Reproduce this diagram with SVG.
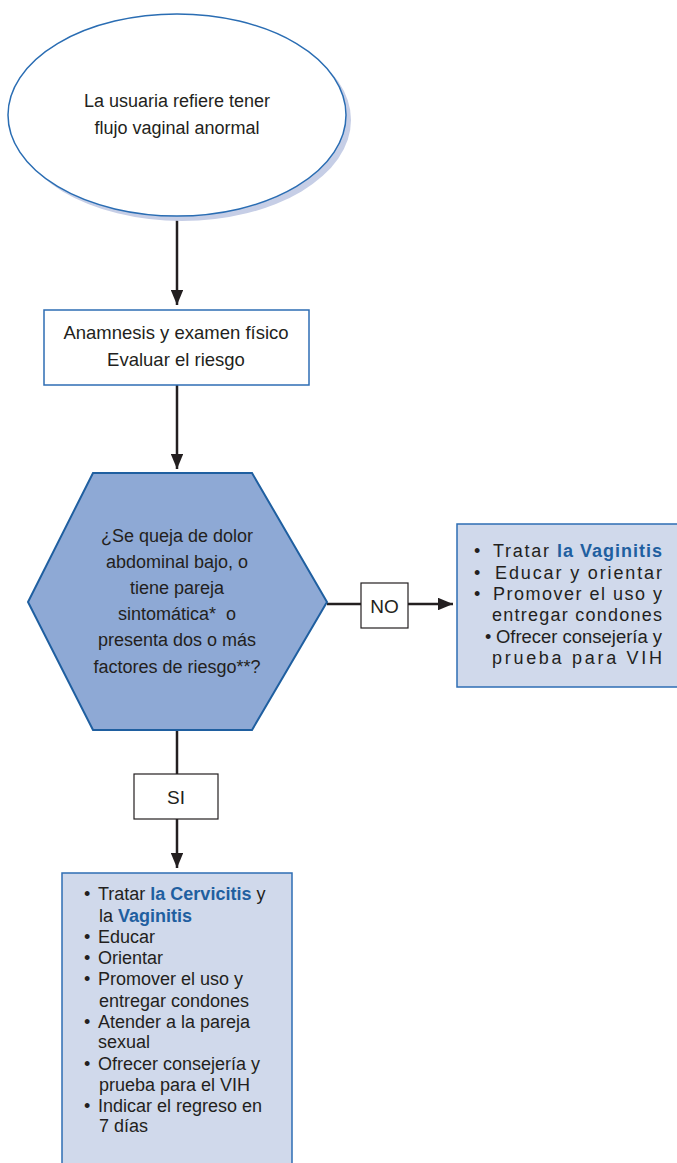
<svg xmlns="http://www.w3.org/2000/svg" width="677" height="1163" viewBox="0 0 677 1163">
<style>
.t{font-family:"Liberation Sans",Arial,sans-serif;font-size:18px;fill:#231f20}
.c{text-anchor:middle}
.b{font-weight:bold;fill:#1f5fa0}
.ln{stroke:#231f20;stroke-width:2.5;fill:none}
.lbl{fill:#fff;stroke:#231f20;stroke-width:1.2}
.act{fill:#d0d9eb;stroke:#2e6db4;stroke-width:1.5}
</style>
<defs>
<marker id="ah" viewBox="0 0 12 10" refX="12" refY="5" markerWidth="6" markerHeight="5" orient="auto" markerUnits="strokeWidth">
<path d="M0,0 L12,5 L0,10 Z" fill="#231f20"/>
</marker>
</defs>
<rect width="677" height="1163" fill="#fff"/>
<g id="connectors">
<line class="ln" x1="177" y1="216" x2="177" y2="305" marker-end="url(#ah)"/>
<line class="ln" x1="177" y1="385" x2="177" y2="469" marker-end="url(#ah)"/>
<line class="ln" x1="327" y1="604" x2="361" y2="604"/>
<line class="ln" x1="408" y1="604" x2="453" y2="604" marker-end="url(#ah)"/>
<line class="ln" x1="177" y1="730" x2="177" y2="774"/>
<line class="ln" x1="177" y1="819" x2="177" y2="868" marker-end="url(#ah)"/>
</g>
<g id="start">
<ellipse cx="182" cy="120" rx="169" ry="101" fill="#c6cee6"/>
<ellipse cx="177" cy="115" rx="169" ry="101" fill="#fff" stroke="#2a6db3" stroke-width="1.5"/>
<text class="t c" x="177" y="107">La usuaria refiere tener</text>
<text class="t c" x="177" y="134">flujo vaginal anormal</text>
</g>
<g id="anamnesis">
<rect x="44" y="310" width="265" height="75" fill="#fff" stroke="#2e6db4" stroke-width="1.5"/>
<text class="t c" x="176" y="339" style="font-size:18.5px">Anamnesis y examen físico</text>
<text class="t c" x="176" y="366" style="font-size:18.5px">Evaluar el riesgo</text>
</g>
<g id="decision">
<polygon points="93,473 252,473 327,602 252,730 93,730 28,602" fill="#8ea9d5" stroke="#1f5fa0" stroke-width="2"/>
<text class="t c" x="177" y="542">¿Se queja de dolor</text>
<text class="t c" x="177" y="568">abdominal bajo, o</text>
<text class="t c" x="177" y="594">tiene pareja</text>
<text class="t c" x="177" y="620" xml:space="preserve">sintomática*  o</text>
<text class="t c" x="177" y="646">presenta dos o más</text>
<text class="t c" x="177" y="673">factores de riesgo**?</text>
</g>
<g id="no-label">
<rect class="lbl" x="361" y="583" width="47" height="45"/>
<text class="t c" x="384.5" y="613" style="font-size:19px">NO</text>
</g>
<g id="no-action">
<rect class="act" x="457" y="524" width="222" height="163"/>
<text class="t" x="474" y="557">•</text>
<text class="t" x="493" y="557" textLength="56" lengthAdjust="spacing">Tratar</text>
<text class="t b" x="557" y="557" textLength="105" lengthAdjust="spacing">la Vaginitis</text>
<text class="t" x="474" y="579">•</text>
<text class="t" x="495" y="579" textLength="167" lengthAdjust="spacing">Educar y orientar</text>
<text class="t" x="474" y="600">•</text>
<text class="t" x="493" y="600" textLength="169" lengthAdjust="spacing">Promover el uso y</text>
<text class="t" x="492" y="621" textLength="170" lengthAdjust="spacing">entregar condones</text>
<text class="t" x="485" y="643">•</text>
<text class="t" x="496" y="643" textLength="166" lengthAdjust="spacingAndGlyphs">Ofrecer consejería y</text>
<text class="t" x="492" y="664" textLength="170" lengthAdjust="spacing">prueba para VIH</text>
</g>
<g id="si-label">
<rect class="lbl" x="134" y="774" width="84" height="45"/>
<text class="t c" x="176" y="804" style="font-size:19px">SI</text>
</g>
<g id="si-action">
<rect class="act" x="62" y="873" width="230" height="295"/>
<text class="t" x="84" y="900">•</text>
<text class="t" x="98" y="900">Tratar <tspan class="b">la Cervicitis</tspan> y</text>
<text class="t" x="99" y="922">la <tspan class="b">Vaginitis</tspan></text>
<text class="t" x="84" y="943">•</text>
<text class="t" x="98" y="943">Educar</text>
<text class="t" x="84" y="964">•</text>
<text class="t" x="98" y="964">Orientar</text>
<text class="t" x="84" y="985">•</text>
<text class="t" x="98" y="985">Promover el uso y</text>
<text class="t" x="99" y="1007">entregar condones</text>
<text class="t" x="84" y="1028">•</text>
<text class="t" x="98" y="1028">Atender a la pareja</text>
<text class="t" x="98" y="1048">sexual</text>
<text class="t" x="84" y="1070">•</text>
<text class="t" x="98" y="1070">Ofrecer consejería y</text>
<text class="t" x="99" y="1091">prueba para el VIH</text>
<text class="t" x="84" y="1112">•</text>
<text class="t" x="98" y="1112">Indicar el regreso en</text>
<text class="t" x="99" y="1132">7 días</text>
</g>
</svg>
